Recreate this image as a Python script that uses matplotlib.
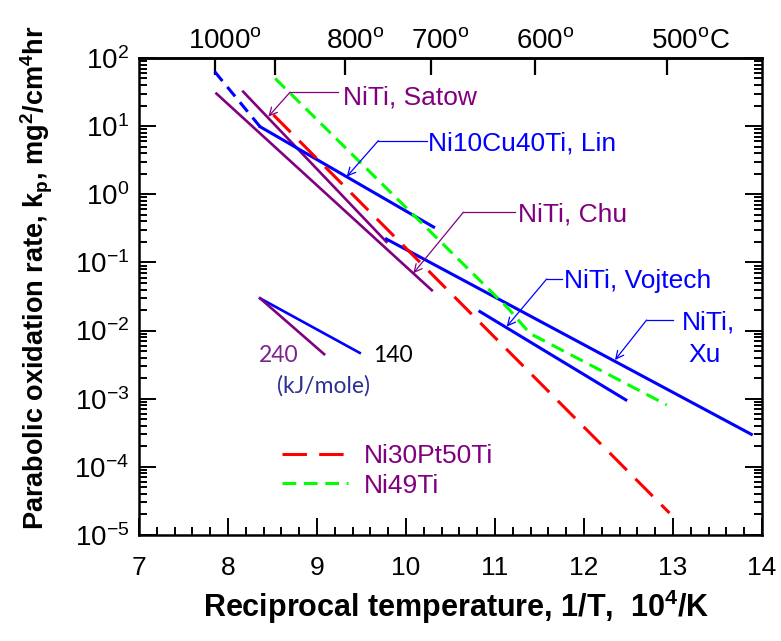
import numpy as np
import matplotlib
matplotlib.use("Agg")
import matplotlib.pyplot as plt
from matplotlib.ticker import MultipleLocator, LogLocator, NullFormatter

plt.rcParams['font.family'] = ['Liberation Sans', 'DejaVu Sans']
plt.rcParams['mathtext.fontset'] = 'custom'
plt.rcParams['mathtext.rm'] = 'Liberation Sans'
plt.rcParams['mathtext.bf'] = 'Liberation Sans:bold'
plt.rcParams['mathtext.it'] = 'Liberation Sans:italic'

# data (x = 1e4/T, y = kp)
satow_x = [8.17, 9.78]
satow_kp = [32, 0.20]
chu_x = [7.87, 10.29]
chu_kp = [30, 0.039]
lin_dash_x = [7.85, 8.36]
lin_dash_kp = [63, 9.8]
lin_x = [8.36, 10.31]
lin_kp = [9.8, 0.33]
xu_x = [9.78, 13.88]
xu_kp = [0.22, 3.0e-4]
vojtech_x = [10.83, 12.47]
vojtech_kp = [0.019, 9.6e-4]
ptti_x = [8.51, 12.96]
ptti_kp = [14.6, 2.1e-5]
ni49_x = [8.53, 11.15, 11.39, 12.93]
ni49_kp = [50, 0.021, 0.0091, 8.1e-4]

# activation energy guide
q140_x = [8.36, 9.48]
q140_kp = [0.0297, 0.0047]
q240_x = [8.36, 9.08]
q240_kp = [0.0297, 0.0045]

celsius_ticks = [1000, 900, 800, 700, 600, 500]
celsius_labels = ['1000$^{\\rm o}$', '', '800$^{\\rm o}$', '700$^{\\rm o}$',
                  '600$^{\\rm o}$', '500$^{\\rm o}$C']
celsius_shift = [0.11, 0, 0.11, 0.11, 0.11, 0.26]  # label offset from tick

BLUE = '#0000ff'
PURPLE = '#800080'
RED = '#ff0000'
GREEN = '#00ff00'

fig = plt.figure(figsize=(7.81, 6.41), dpi=100)
ax = fig.add_axes([0.178, 0.1654, 0.7977, 0.7442])
ax.set_yscale('log')
ax.set_xlim(7, 14)
ax.set_ylim(1e-5, 1e2)

ax.plot(satow_x, satow_kp, color=PURPLE, lw=1.9)
ax.plot(chu_x, chu_kp, color=PURPLE, lw=1.9)
ax.plot(lin_dash_x, lin_dash_kp, color=BLUE, lw=2.2, dashes=(4, 2.5))
ax.plot(lin_x, lin_kp, color=BLUE, lw=2.2)
ax.plot(xu_x, xu_kp, color=BLUE, lw=2.2)
ax.plot(vojtech_x, vojtech_kp, color=BLUE, lw=2.2)
ax.plot(ptti_x, ptti_kp, color=RED, lw=2.2, dashes=(8, 4), label='Ni30Pt50Ti')
ax.plot(ni49_x, ni49_kp, color=GREEN, lw=2.2, dashes=(4.5, 2.5), label='Ni49Ti')

ax.plot(q140_x, q140_kp, color=BLUE, lw=1.9)
ax.plot(q240_x, q240_kp, color=PURPLE, lw=1.9)
ax.text(8.573, 10**-2.36, '240', color='#7b2290', fontsize=16.5, family='Lato',
        ha='center', va='center')
ax.text(9.85, 10**-2.36, '140', color='black', fontsize=16.5, family='Lato',
        ha='center', va='center')
ax.text(9.07, 10**-2.81, '(kJ/mole)', color='#2e3192', fontsize=16.5, family='Lato',
        ha='center', va='center')

# leader lines: (tip, knee, end of horizontal), text position, color
notes = [
    ((8.453, 1.139), (8.697, 1.497), 9.239, (9.292, 1.321), 'NiTi, Satow', PURPLE),
    ((9.334, 0.258), (9.689, 0.786), 10.233, (10.25, 0.640), 'Ni10Cu40Ti, Lin', BLUE),
    ((10.082, -1.160), (10.644, -0.264), 11.225, (11.262, -0.402), 'NiTi, Chu', PURPLE),
    ((11.131, -1.943), (11.581, -1.243), 11.749, (11.779, -1.380), 'NiTi, Vojtech', BLUE),
    ((12.348, -2.432), (12.704, -1.845), 13.003, (13.098, -1.992), 'NiTi,', BLUE),
]
for tip, knee, xend, tpos, txt, col in notes:
    ax.plot([knee[0], xend], [10**knee[1], 10**knee[1]], color=col, lw=0.9)
    ax.annotate('', xy=(tip[0], 10**tip[1]), xytext=(knee[0], 10**knee[1]),
                arrowprops=dict(arrowstyle='->', color=col, lw=0.9,
                                shrinkA=0, shrinkB=0, mutation_scale=14))
    ax.text(tpos[0], 10**tpos[1], txt, color=col, fontsize=19, va='baseline')
ax.text(13.172, 10**-2.457, 'Xu', color=BLUE, fontsize=19, va='baseline')

leg = ax.legend(loc='center left', bbox_to_anchor=(0.229, 0.134), frameon=False,
                fontsize=19, labelcolor=PURPLE, handlelength=2.5,
                handletextpad=0.6, labelspacing=0.2, borderpad=0,
                borderaxespad=0)

# axes styling
for sp in ax.spines.values():
    sp.set_linewidth(1.8)
ax.xaxis.set_major_locator(MultipleLocator(1))
ax.xaxis.set_minor_locator(MultipleLocator(0.2))
ax.yaxis.set_major_locator(LogLocator(base=10, numticks=20))
ax.yaxis.set_minor_locator(LogLocator(base=10, subs=np.arange(2, 10), numticks=20))
ax.yaxis.set_minor_formatter(NullFormatter())
ax.tick_params(which='both', direction='in', top=False, right=True, width=1.4)
ax.tick_params(which='major', length=12)
ax.tick_params(which='minor', length=6)
ax.tick_params(axis='x', pad=15, labelsize=19)
ax.tick_params(axis='y', pad=7, labelsize=20)

secax = ax.secondary_xaxis('top')
secax.set_xticks([1e4 / (c + 273.15) for c in celsius_ticks])
secax.set_xticklabels([''] * len(celsius_ticks))
secax.tick_params(direction='in', length=12, width=1.6)
secax.spines['top'].set_linewidth(1.8)
for c, lab, dx in zip(celsius_ticks, celsius_labels, celsius_shift):
    if lab:
        ax.text(1e4 / (c + 273.15) + dx, 1.008, lab, transform=ax.get_xaxis_transform(),
                ha='center', va='bottom', fontsize=20)

ax.text(0.509, -0.151, 'Reciprocal temperature, 1/T,  10$^\\mathbf{4}$/K',
        transform=ax.transAxes, ha='center', va='center', fontsize=22,
        fontweight='bold')
ax.text(-0.164, 0.54, 'Parabolic oxidation rate, k$_\\mathbf{p}$, mg$^\\mathbf{2}$/cm$^\\mathbf{4}$hr',
        transform=ax.transAxes, ha='center', va='center', fontsize=19.5,
        fontweight='bold', rotation=90)

fig.savefig('out.png', dpi=100)
